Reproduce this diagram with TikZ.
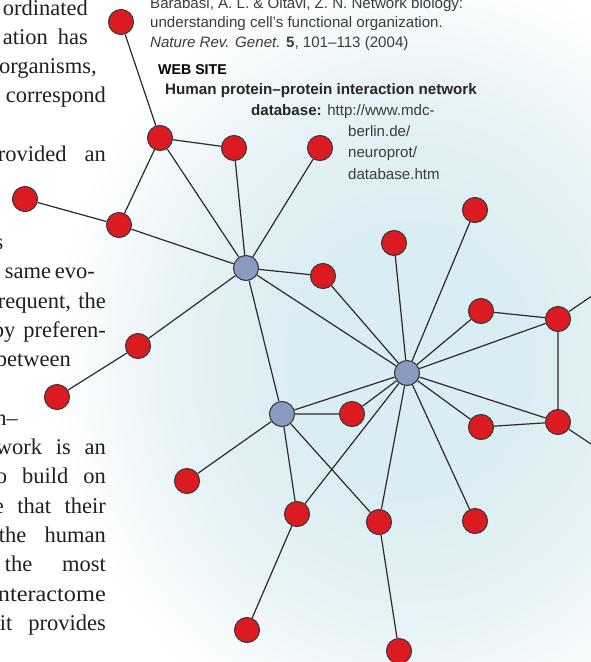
\documentclass[tikz,border=0pt]{standalone}
\usepackage{fontspec}
\newfontfamily\bodyfont{Liberation Serif}
\newfontfamily\reffont{Liberation Sans}
\definecolor{nodered}{HTML}{DC1A22}
\definecolor{nodeblue}{HTML}{8A9BC2}
\definecolor{edgecol}{HTML}{2B2B2B}
\definecolor{rimcol}{HTML}{3A3A3A}
\definecolor{cloudc}{HTML}{DAEDF2}
\definecolor{cloudm}{HTML}{E6F2F6}
\definecolor{bodytext}{HTML}{231F20}
\definecolor{reftext}{HTML}{3C3C3C}
\pgfdeclareradialshading{cloud}{\pgfpoint{0bp}{0bp}}{color(0bp)=(cloudc); color(8bp)=(cloudc); color(16bp)=(cloudm); color(25bp)=(white); color(50bp)=(white)}
\begin{document}
\begin{tikzpicture}[x=1pt,y=-1pt,
  rnode/.style={circle, minimum size=25pt, inner sep=0pt, fill=nodered, draw=rimcol, line width=1.1pt},
  bnode/.style={circle, minimum size=25pt, inner sep=0pt, fill=nodeblue, draw=rimcol, line width=1.1pt},
  edge/.style={draw=edgecol, line width=1.2pt},
  body/.style={anchor=base east, inner sep=0pt, font=\bodyfont\fontsize{22.5}{26}\selectfont, text=bodytext},
  ref/.style={anchor=base west, inner sep=0pt, font=\reffont\fontsize{15.1}{18}\selectfont, text=reftext}]
\useasboundingbox (0,0) rectangle (591,662);
\clip (0,0) rectangle (591,662);
\fill[white] (0,0) rectangle (591,662);
\shade[shading=cloud] (410,360) ellipse [x radius=360, y radius=400];

% body text fragments (justified lines, cut at the left edge)
\node[body] (t1) at (88,15) {ordinated};
\node[body] (t2) at (88,44) {\makebox[85pt][s]{ation has}};
\node[body] (t3) at (97,73.6) {organisms,};
\node[body] (t4) at (106,102.9) {correspond};
\node[body] (t5) at (106,161.5) {\makebox[108pt][s]{rovided an}};
\node[body] (t6) at (3.5,249) {s};
\node[body] (t7) at (93,278.7) {\makebox[88pt][s]{same evo-}};
\node[body] (t8) at (106,308) {\makebox[108pt][s]{requent, the}};
\node[body] (t9) at (106,337) {\makebox[113pt][s]{by preferen-}};
\node[body] (t10) at (71,366.6) {between};
\node[body] (t11) at (18,425) {n–};
\node[body] (t12) at (106,454.5) {\makebox[110pt][s]{work is an}};
\node[body] (t13) at (106,483.8) {\makebox[110pt][s]{o build on}};
\node[body] (t14) at (106,513) {\makebox[112pt][s]{e that their}};
\node[body] (t15) at (106,542.4) {\makebox[107pt][s]{the human}};
\node[body] (t16) at (106,571.7) {\makebox[101pt][s]{the most}};
\node[body] (t17) at (106,601) {\scalebox{1.08}[1]{nteractome}};
\node[body] (t18) at (106,630) {\makebox[106pt][s]{it provides}};

% reference text
\node[ref] (r1) at (150,8) {Barabási, A. L. \& Oltavi, Z. N. Network biology:};
\node[ref] (r2) at (150,27.5) {understanding cell’s functional organization.};
\node[ref] (r3) at (150,47.5) {\textit{Nature Rev. Genet.} \textbf{5}, 101–113 (2004)};
\node[ref, font=\reffont\bfseries\fontsize{14.2}{17}\selectfont, text=black] (r4) at (158,74) {WEB SITE};
\node[ref, font=\reffont\bfseries\fontsize{15.2}{18}\selectfont, text=black!85] (r5) at (165,94) {Human protein–protein interaction network};
\node[ref] (r6) at (251,115) {\textbf{\color{black!85}database:} http://www.mdc-};
\node[ref] (r7) at (348,136) {berlin.de/};
\node[ref] (r8) at (348,157.5) {neuroprot/};
\node[ref] (r9) at (348,179) {database.htm};

% network nodes
\node[rnode] (A) at (121,22) {};
\node[rnode] (B) at (160,138) {};
\node[rnode] (C) at (234,148) {};
\node[rnode] (D) at (320,148) {};
\node[rnode] (E) at (25,199) {};
\node[rnode] (F) at (119,225) {};
\node[rnode] (G) at (323,276) {};
\node[rnode] (H) at (394,243) {};
\node[rnode] (I) at (475,210) {};
\node[rnode] (J) at (481,311) {};
\node[rnode] (K) at (558,319) {};
\node[rnode] (L) at (138,346) {};
\node[rnode] (M) at (57,397) {};
\node[rnode] (N) at (352,414) {};
\node[rnode] (O) at (481,427) {};
\node[rnode] (P) at (558,422) {};
\node[rnode] (Q) at (187,481) {};
\node[rnode] (R) at (297,514) {};
\node[rnode] (S) at (379,522) {};
\node[rnode] (T) at (475,521) {};
\node[rnode] (U) at (247,630) {};
\node[rnode] (V) at (399,651) {};
\node[bnode] (X1) at (246,268) {};
\node[bnode] (X2) at (407,373) {};
\node[bnode] (X3) at (282,414) {};
\coordinate (kout) at (630,270);
\coordinate (pout) at (630,470);

\path[edge] (A)--(B) (B)--(C) (B)--(F) (B)--(X1) (C)--(X1) (D)--(X1)
  (E)--(F) (F)--(X1) (G)--(X1) (G)--(X2) (X1)--(L) (L)--(M) (X1)--(X3)
  (X1)--(X2) (H)--(X2) (I)--(X2) (J)--(X2) (K)--(X2) (J)--(K) (K)--(P)
  (K)--(kout) (O)--(X2) (O)--(P) (P)--(X2) (P)--(pout) (X2)--(T)
  (X2)--(S) (X2)--(R) (X2)--(N) (X2)--(X3) (X3)--(N) (X3)--(Q)
  (X3)--(R) (X3)--(S) (R)--(U) (S)--(V);
\end{tikzpicture}
\end{document}
